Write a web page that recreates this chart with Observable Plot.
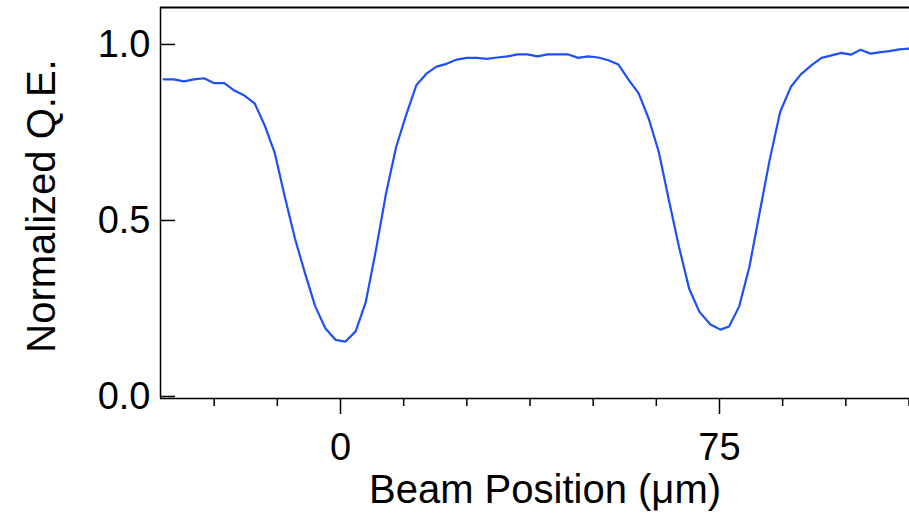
<!DOCTYPE html>
<html>
<head>
<meta charset="utf-8">
<script src="https://cdn.jsdelivr.net/npm/d3@7"></script>
<script src="https://cdn.jsdelivr.net/npm/@observablehq/plot@0.6"></script>
<style>
  html, body { margin: 0; padding: 0; background: #fff; }
  #chart svg { display: block; }
</style>
</head>
<body>
<div id="chart"></div>
<script>
// Beam position (µm)
const positions = [
  -35, -33, -31, -29, -27, -25, -23, -21, -19, -17, -15, -13, -11, -9, -7, -5, -3, -1,
  1, 3, 5, 7, 9, 11, 13, 15, 17, 19, 21, 23, 25, 27, 29, 31, 33, 35, 37, 39, 41, 43, 45,
  47, 49, 51, 53, 55, 57, 59, 61, 63, 65, 67, 69, 71, 73.2, 75.2, 76.9, 78.9, 80.9, 82.9,
  84.9, 87, 89.1, 91.1, 93.3, 95.2, 97.2, 99.1, 101, 102.9, 104.9, 106.9, 108.6, 110.6, 112.6
];
// Normalized quantum efficiency
const qe = [
  0.901, 0.901, 0.895, 0.901, 0.904, 0.890, 0.890, 0.869, 0.855, 0.833, 0.770, 0.691, 0.566, 0.448, 0.349, 0.256, 0.194, 0.161,
  0.156, 0.185, 0.268, 0.415, 0.576, 0.708, 0.800, 0.884, 0.917, 0.937, 0.945, 0.957, 0.962, 0.962, 0.959, 0.963, 0.966, 0.972, 0.972, 0.966, 0.972, 0.972, 0.972,
  0.962, 0.966, 0.963, 0.955, 0.943, 0.900, 0.861, 0.789, 0.694, 0.557, 0.424, 0.306, 0.241, 0.2045, 0.190, 0.199, 0.256, 0.367, 0.519,
  0.670, 0.808, 0.879, 0.915, 0.942, 0.962, 0.969, 0.976, 0.971, 0.985, 0.974, 0.978, 0.981, 0.986, 0.988
];
const xMajorTicks = [0, 75];
const xMinorTicks = [-25, -12.5, 12.5, 25, 37.5, 50, 62.5, 87.5, 100, 112.5];
const yTicks = [0, 0.5, 1.0];
const xLabel = "Beam Position (μm)";
const yLabel = "Normalized Q.E.";

const xDomain = [-35.62, 112.6];
const yDomain = [-0.0057, 1.105];

const data = positions.map((p, i) => ({x: p, y: qe[i]}));
const FS = 38;
const TFS = 40;

const chart = Plot.plot({
  width: 909,
  height: 515,
  marginLeft: 160,
  marginRight: 0,
  marginTop: 7,
  marginBottom: 117,
  style: {fontFamily: "'Liberation Sans', Arial, Helvetica, sans-serif", color: "#000", background: "#fff"},
  x: {domain: xDomain},
  y: {domain: yDomain},
  marks: [
    // frame lines
    Plot.ruleY([yDomain[1]], {stroke: "#000", strokeWidth: 2}),
    Plot.ruleY([yDomain[0]], {stroke: "#000", strokeWidth: 1.5}),
    Plot.ruleX([xDomain[0]], {stroke: "#000", strokeWidth: 1.5}),
    // x ticks
    Plot.axisX({ticks: xMajorTicks, tickSize: 16, text: null, label: null, strokeWidth: 1.5}),
    Plot.axisX({ticks: xMinorTicks, tickSize: 8, text: null, label: null, strokeWidth: 1.5}),
    Plot.axisX({ticks: xMajorTicks, tickSize: 0, tickPadding: 35, fontSize: FS, label: null, tickFormat: d => String(d)}),
    // y ticks (inward)
    Plot.axisY({ticks: yTicks, tickSize: 15, dx: 15, text: null, label: null, strokeWidth: 1.5}),
    Plot.axisY({ticks: yTicks, tickSize: 0, tickPadding: 10, fontSize: FS, label: null, tickFormat: d3.format(".1f")}),
    // axis titles
    Plot.text([xLabel], {frameAnchor: "bottom", text: d => d, fontSize: TFS, lineAnchor: "top", dy: 76, dx: 10, fill: "#000"}),
    Plot.text([yLabel], {frameAnchor: "left", text: d => d, fontSize: TFS, rotate: -90, textAnchor: "middle", lineAnchor: "middle", dx: -118, dy: 3, fill: "#000"}),
    // data line
    Plot.line(data, {x: "x", y: "y", stroke: "#1f50f7", strokeWidth: 2.2})
  ]
});
document.getElementById("chart").append(chart);
</script>
</body>
</html>
